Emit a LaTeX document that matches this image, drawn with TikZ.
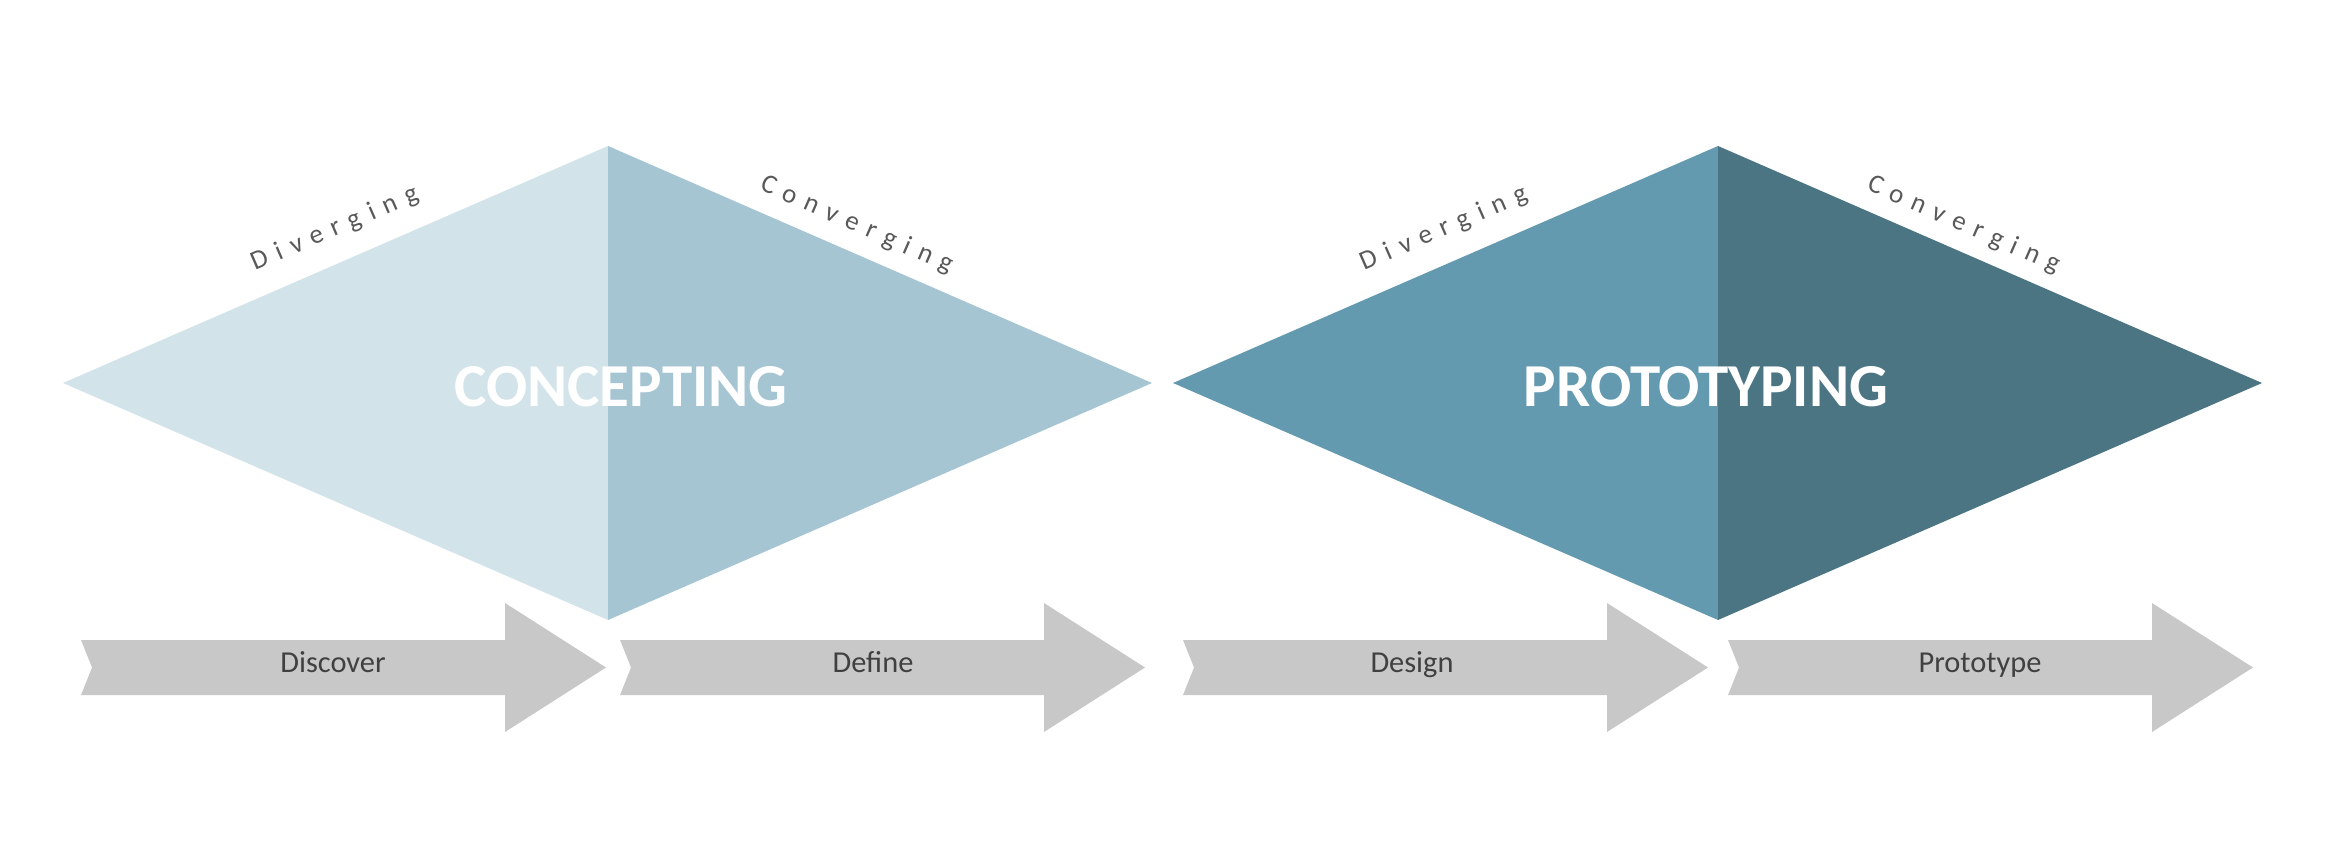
\documentclass[tikz,border=0pt]{standalone}
\usepackage{fontspec}
\setmainfont{Carlito}
\newfontfamily\spacedfont[LetterSpace=35]{Carlito}

\definecolor{paleblue}{RGB}{211,227,234}
\definecolor{lightblue}{RGB}{165,197,211}
\definecolor{tealblue}{RGB}{99,154,176}
\definecolor{darkteal}{RGB}{75,117,131}
\definecolor{arrowgray}{RGB}{200,200,200}
\definecolor{labelgray}{RGB}{89,89,89}
\definecolor{textgray}{RGB}{64,64,64}

\begin{document}
\begin{tikzpicture}[x=0.5pt,y=0.5pt,yscale=-1,xscale=1,
	phasearrow/.style={fill=arrowgray,draw=none},
	steplabel/.style={anchor=base,inner sep=0.75pt,font=\fontsize{15.2}{17}\selectfont,text=textgray},
	phaselabel/.style={anchor=base,inner sep=0.75pt,font=\fontsize{30.5}{33}\selectfont\bfseries,text=white},
	edgelabel/.style={inner sep=0.75pt,font=\spacedfont\fontsize{13.5}{15}\selectfont,text=labelgray}]
	\useasboundingbox (0,0) rectangle (2352,844);

	%Shape: Diamond halves, concepting
	\fill [paleblue] (63,383) -- (608,146) -- (608,620) -- cycle ;
	\fill [lightblue] (608,146) -- (1152,383) -- (608,620) -- cycle ;
	%Shape: Diamond halves, prototyping
	\fill [tealblue] (1173,383) -- (1718,146) -- (1718,620) -- cycle ;
	\fill [darkteal] (1718,146) -- (2262,383) -- (1718,620) -- cycle ;

	%Shape: Arrows
	\fill [phasearrow] (81,640) -- (505,640) -- (505,603) -- (606,667.5) -- (505,732) -- (505,695) -- (81,695) -- (92,667.5) -- cycle ;
	\fill [phasearrow] (620,640) -- (1044,640) -- (1044,603) -- (1145,667.5) -- (1044,732) -- (1044,695) -- (620,695) -- (631,667.5) -- cycle ;
	\fill [phasearrow] (1183,640) -- (1607,640) -- (1607,603) -- (1708,667.5) -- (1607,732) -- (1607,695) -- (1183,695) -- (1194,667.5) -- cycle ;
	\fill [phasearrow] (1728,640) -- (2152,640) -- (2152,603) -- (2253,667.5) -- (2152,732) -- (2152,695) -- (1728,695) -- (1739,667.5) -- cycle ;

	% Text Node
	\draw (621,407) node (concepting) [phaselabel] {CONCEPTING};
	% Text Node
	\draw (1706,407) node (prototyping) [phaselabel] {PROTOTYPING};
	% Text Node
	\draw (335,229) node (divergeA) [edgelabel,rotate=23.5] {Diverging};
	% Text Node
	\draw (857,225) node (convergeA) [edgelabel,rotate=-23.5] {Converging};
	% Text Node
	\draw (1444,229) node (divergeB) [edgelabel,rotate=23.5] {Diverging};
	% Text Node
	\draw (1964,225) node (convergeB) [edgelabel,rotate=-23.5] {Converging};
	% Text Node
	\draw (333,672) node (discover) [steplabel] {Discover};
	% Text Node
	\draw (873,672) node (define) [steplabel] {Define};
	% Text Node
	\draw (1412,672) node (design) [steplabel] {Design};
	% Text Node
	\draw (1980,672) node (prototype) [steplabel] {Prototype};

\end{tikzpicture}
\end{document}
